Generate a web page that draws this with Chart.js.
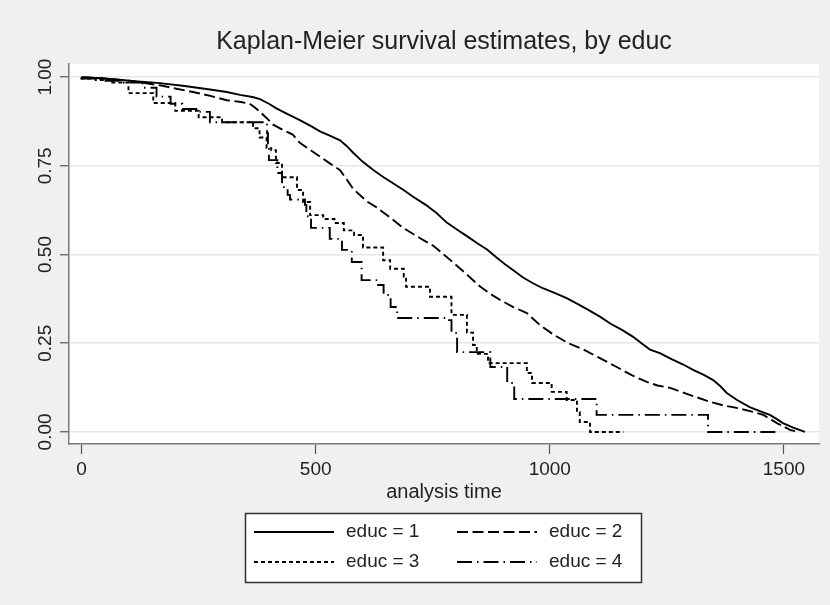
<!DOCTYPE html>
<html>
<head>
<meta charset="utf-8">
<script src="https://cdn.jsdelivr.net/npm/chart.js@4.4.1/dist/chart.umd.min.js"></script>
<style>
  html, body { margin: 0; padding: 0; background: #f0f0f0; }
  canvas { display: block; }
</style>
</head>
<body>
<canvas id="kmChart" width="830" height="605"></canvas>
<script>
// data
const groupLabels = ['educ = 1', 'educ = 2', 'educ = 3', 'educ = 4'];
const xTicks = [0, 500, 1000, 1500];
const yTicks = [0, 0.25, 0.5, 0.75, 1];

const time1 = [0, 40, 80, 120, 167, 220, 274, 310, 338, 365, 381, 400, 416, 440, 466, 490, 509, 530, 552, 566,
  580, 600, 623, 645, 666, 690, 708, 735, 758, 780, 800, 823, 845, 866, 885, 905, 922, 942, 964, 985,
  1010, 1036, 1060, 1085, 1107, 1130, 1155, 1178, 1200, 1214, 1235, 1260, 1285, 1306, 1330, 1349, 1365, 1378, 1400, 1427,
  1450, 1470, 1485, 1498, 1520, 1545];
const surv1 = [1, 0.997, 0.993, 0.988, 0.983, 0.975, 0.965, 0.958, 0.95, 0.944, 0.938, 0.925, 0.912, 0.896, 0.879, 0.862, 0.847, 0.835, 0.822, 0.806,
  0.787, 0.762, 0.738, 0.718, 0.7, 0.68, 0.663, 0.64, 0.617, 0.59, 0.572, 0.552, 0.532, 0.514, 0.493, 0.472, 0.456, 0.436, 0.419, 0.405,
  0.392, 0.377, 0.36, 0.342, 0.325, 0.305, 0.287, 0.268, 0.246, 0.232, 0.222, 0.205, 0.19, 0.175, 0.16, 0.146, 0.128, 0.11, 0.09, 0.07,
  0.058, 0.048, 0.036, 0.025, 0.012, 0];

const time2 = [0, 50, 100, 167, 200, 238, 275, 310, 340, 359, 372, 381, 395, 409, 430, 451, 466, 488, 509, 530,
  552, 566, 580, 609, 630, 660, 687, 723, 751, 787, 820, 851, 872, 894, 922, 951, 980, 1007, 1040, 1071,
  1107, 1143, 1175, 1207, 1230, 1257, 1300, 1342, 1370, 1399, 1430, 1456, 1470, 1485, 1500, 1513, 1530];
const surv2 = [1, 0.996, 0.99, 0.977, 0.968, 0.958, 0.947, 0.935, 0.93, 0.925, 0.912, 0.902, 0.885, 0.866, 0.851, 0.838, 0.815, 0.795, 0.776, 0.757,
  0.738, 0.712, 0.685, 0.65, 0.633, 0.603, 0.575, 0.546, 0.525, 0.485, 0.447, 0.41, 0.39, 0.372, 0.352, 0.335, 0.3, 0.275, 0.25, 0.233,
  0.208, 0.183, 0.16, 0.141, 0.131, 0.124, 0.104, 0.085, 0.075, 0.068, 0.058, 0.048, 0.037, 0.025, 0.015, 0.006, 0];

const time3 = [0, 30, 60, 100, 153, 200, 250, 300, 366, 380, 395, 405, 415, 428, 460, 473, 488, 516, 540, 560,
  582, 601, 644, 659, 688, 693, 744, 790, 823, 836, 844, 868, 951, 962, 1004, 1036, 1058, 1064, 1086, 1157];
const surv3 = [1, 0.996, 0.992, 0.985, 0.955, 0.927, 0.905, 0.887, 0.873, 0.856, 0.83, 0.8, 0.794, 0.758, 0.718, 0.682, 0.648, 0.611, 0.6, 0.589,
  0.568, 0.555, 0.52, 0.484, 0.46, 0.437, 0.409, 0.381, 0.33, 0.28, 0.245, 0.22, 0.194, 0.166, 0.138, 0.113, 0.09, 0.056, 0.028, 0];

const time4 = [0, 40, 90, 130, 160, 190, 215, 245, 274, 396, 398, 400, 418, 428, 432, 440, 445, 477, 480, 490,
  530, 556, 577, 598, 633, 645, 660, 674, 777, 790, 802, 873, 909, 924, 1100, 1338, 1490];
const surv4 = [1, 0.996, 0.99, 0.985, 0.97, 0.945, 0.925, 0.91, 0.902, 0.873, 0.842, 0.803, 0.766, 0.73, 0.7, 0.69, 0.668, 0.655, 0.64, 0.608,
  0.575, 0.544, 0.513, 0.479, 0.428, 0.414, 0.386, 0.352, 0.321, 0.315, 0.279, 0.225, 0.183, 0.138, 0.093, 0.048, 0];

const times = [time1, time2, time3, time4];
const survs = [surv1, surv2, surv3, surv4];

// line styles per group (educ 1/2 have many tiny steps, drawn as a fine line)
const dashes = [[], [11, 4.5], [4, 3], [15, 5, 1.5, 5]];
const steps = [false, false, 'after', 'after'];

const narrow = '"Liberation Sans Narrow", "Liberation Sans", sans-serif';
const regular = '"Liberation Sans", Arial, sans-serif';

const datasets = groupLabels.map((label, i) => ({
  label: label,
  data: times[i].map((t, j) => ({ x: t, y: survs[i][j] })),
  stepped: steps[i],
  borderColor: '#000',
  borderWidth: 1.9,
  borderDash: dashes[i],
  pointRadius: 0,
  fill: false,
  tension: 0
}));

// grey page, white plot region
const background = {
  id: 'background',
  beforeDraw(chart) {
    const { ctx, chartArea: a } = chart;
    ctx.save();
    ctx.fillStyle = '#f0f0f0';
    ctx.fillRect(0, 0, chart.width, chart.height);
    ctx.fillStyle = '#ffffff';
    ctx.fillRect(a.left, a.top, a.right - a.left, a.bottom - a.top);
    ctx.restore();
  }
};

// vertical y tick labels
const yLabels = {
  id: 'yLabels',
  afterDraw(chart) {
    const { ctx } = chart;
    const y = chart.scales.y;
    ctx.save();
    ctx.fillStyle = '#222';
    ctx.font = '19px ' + narrow;
    ctx.textAlign = 'center';
    ctx.textBaseline = 'middle';
    yTicks.forEach(v => {
      ctx.save();
      ctx.translate(46, y.getPixelForValue(v));
      ctx.rotate(-Math.PI / 2);
      ctx.fillText(v.toFixed(2), 0, 0);
      ctx.restore();
    });
    ctx.restore();
  }
};

// boxed two-column legend
const boxLegend = {
  id: 'boxLegend',
  afterDraw(chart) {
    const { ctx } = chart;
    ctx.save();
    ctx.fillStyle = '#fff';
    ctx.strokeStyle = '#333';
    ctx.lineWidth = 1.5;
    ctx.fillRect(245.5, 513.5, 396, 69);
    ctx.strokeRect(245.5, 513.5, 396, 69);
    const colX = [254, 457];
    const rowY = [532, 562];
    ctx.font = '19px ' + regular;
    ctx.textBaseline = 'middle';
    ctx.textAlign = 'left';
    chart.data.datasets.forEach((ds, i) => {
      const x = colX[i % 2], y = rowY[Math.floor(i / 2)];
      ctx.beginPath();
      ctx.setLineDash(ds.borderDash);
      ctx.lineWidth = 1.8;
      ctx.strokeStyle = '#000';
      ctx.moveTo(x, y);
      ctx.lineTo(x + 80, y);
      ctx.stroke();
      ctx.setLineDash([]);
      ctx.fillStyle = '#222';
      ctx.fillText(ds.label, x + 92, y);
    });
    ctx.restore();
  }
};

new Chart(document.getElementById('kmChart'), {
  type: 'line',
  data: { datasets: datasets },
  plugins: [background, yLabels, boxLegend],
  options: {
    responsive: false,
    animation: false,
    layout: { padding: { left: 0, top: 0, right: 11, bottom: 101 } },
    plugins: {
      legend: { display: false },
      tooltip: { enabled: false },
      title: {
        display: true,
        text: 'Kaplan-Meier survival estimates, by educ',
        fullSize: false,
        color: '#222',
        font: { family: regular, size: 25, weight: 'normal' },
        padding: { top: 27, bottom: 7 }
      }
    },
    scales: {
      x: {
        type: 'linear',
        min: -27,
        max: 1575,
        afterBuildTicks: s => { s.ticks = xTicks.map(v => ({ value: v })); },
        afterFit: s => { s.height = 60; },
        ticks: {
          color: '#222',
          font: { family: narrow, size: 19 },
          padding: 4,
          maxRotation: 0,
          callback: v => String(v)
        },
        grid: { drawOnChartArea: false, drawTicks: true, tickLength: 10, tickColor: '#555', tickWidth: 1.2 },
        border: { display: true, color: '#7a7a7a', width: 1.5 },
        title: {
          display: true,
          text: 'analysis time',
          color: '#222',
          font: { family: narrow, size: 20 },
          padding: 0
        }
      },
      y: {
        min: -0.034,
        max: 1.037,
        afterBuildTicks: s => { s.ticks = yTicks.map(v => ({ value: v })); },
        afterFit: s => { s.width = 69; },
        ticks: { display: false },
        grid: { color: '#e6e6e6', lineWidth: 1.5, drawTicks: true, tickLength: 9, tickColor: '#555', tickWidth: 1.2 },
        border: { display: true, color: '#7a7a7a', width: 1.5 }
      }
    }
  }
});
</script>
</body>
</html>
